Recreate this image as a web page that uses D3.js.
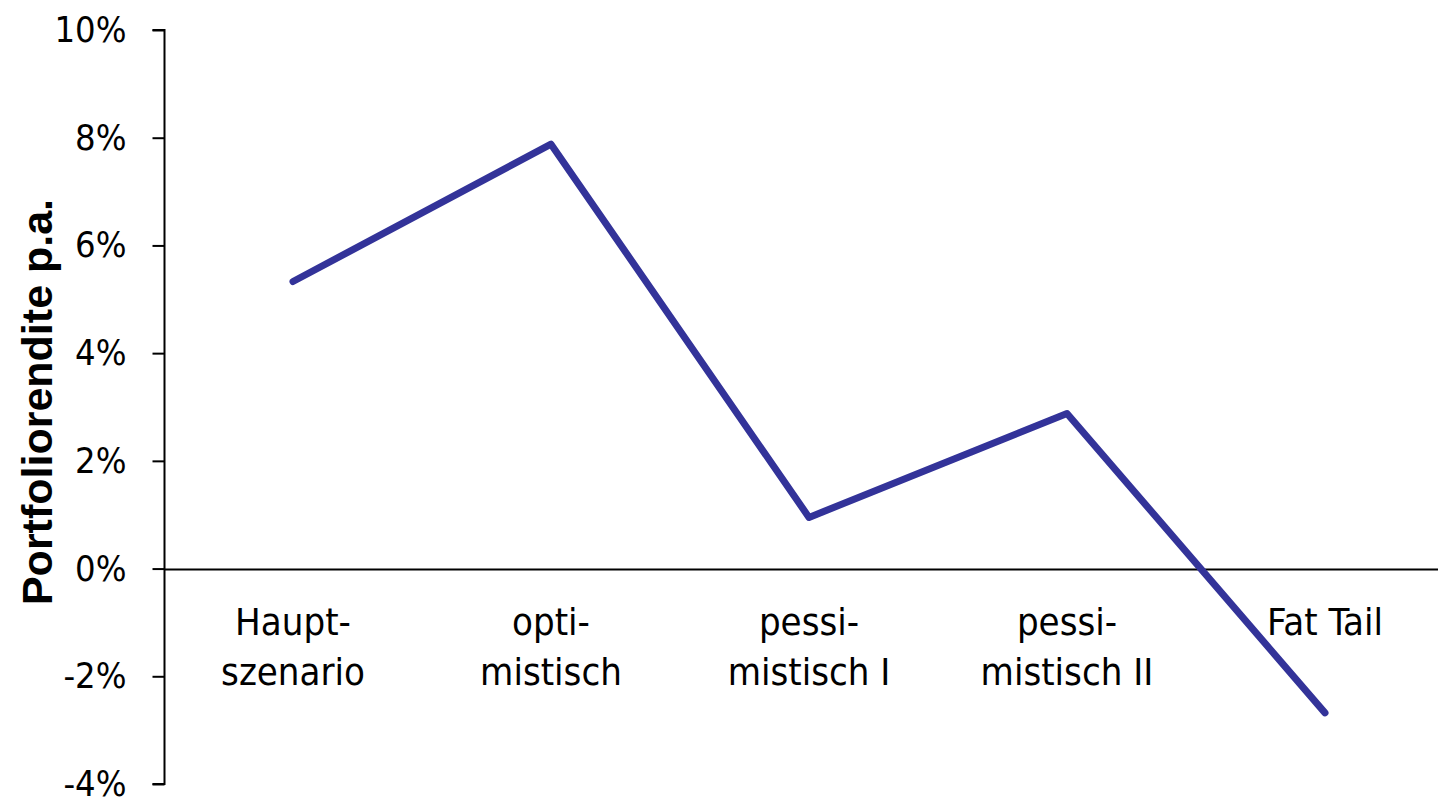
<!DOCTYPE html>
<html>
<head>
<meta charset="utf-8">
<script src="https://cdn.jsdelivr.net/npm/d3@7"></script>
<style>
  html, body { margin: 0; padding: 0; background: #fff; }
  svg { display: block; }
</style>
</head>
<body>
<svg id="chart" width="1438" height="799"></svg>
<script>
// Scenario names (each split into the lines shown under the axis)
const categories = ["Hauptszenario", "optimistisch", "pessimistisch I", "pessimistisch II", "Fat Tail"];
const categoryLines = [["Haupt-", "szenario"], ["opti-", "mistisch"], ["pessi-", "mistisch I"], ["pessi-", "mistisch II"], ["Fat Tail"]];
// Portfolio return p.a. in percent per scenario
const returns = [5.33, 7.88, 0.95, 2.88, -2.68];
// Y-axis ticks in percent
const yTicks = [-4, -2, 0, 2, 4, 6, 8, 10];

const svg = d3.select("#chart");
const labelFont = "'DejaVu Sans Condensed', 'DejaVu Sans', sans-serif";

const x = d3.scalePoint().domain(categories).range([164, 1454]).padding(0.5);
const y = d3.scaleLinear().domain([-4, 10]).range([784, 30]);

// Y axis with outward ticks
const yAxis = svg.append("g")
  .attr("transform", "translate(164.5,0)")
  .call(d3.axisLeft(y).tickValues(yTicks).tickSize(12).tickPadding(26).tickFormat(d => d + "%"));
yAxis.select(".domain").attr("stroke", "#000").attr("stroke-width", 2).attr("d", `M-12,${y(10)}H0V${y(-4)}H-12`);
yAxis.selectAll(".tick line").attr("stroke", "#000").attr("stroke-width", 2);
yAxis.selectAll(".tick text")
  .attr("font-family", labelFont).attr("font-size", 36).attr("fill", "#000");

// Zero line
svg.append("line")
  .attr("x1", 164).attr("x2", 1438)
  .attr("y1", Math.round(y(0)) + 0.5).attr("y2", Math.round(y(0)) + 0.5)
  .attr("stroke", "#000").attr("stroke-width", 2);

// Category labels below the zero line
const cat = svg.append("g").selectAll("text")
  .data(categories)
  .join("text")
  .attr("x", d => x(d))
  .attr("y", 635)
  .attr("text-anchor", "middle")
  .attr("font-family", labelFont)
  .attr("font-size", 38)
  .attr("fill", "#000");
cat.each(function(d, i) {
  d3.select(this).selectAll("tspan")
    .data(categoryLines[i])
    .join("tspan")
    .attr("x", x(d))
    .attr("dy", (t, j) => j === 0 ? 0 : 50)
    .text(t => t);
});

// Y-axis title
svg.append("text")
  .attr("transform", "translate(52,402) rotate(-90)")
  .attr("text-anchor", "middle")
  .attr("font-family", "'Liberation Sans', Arial, sans-serif")
  .attr("font-weight", "bold")
  .attr("font-size", 43)
  .attr("fill", "#000")
  .text("Portfoliorendite p.a.");

// Return line
const line = d3.line().x((d, i) => x(categories[i])).y(d => y(d));
svg.append("path")
  .datum(returns)
  .attr("d", line)
  .attr("fill", "none")
  .attr("stroke", "#333399")
  .attr("stroke-width", 7)
  .attr("stroke-linejoin", "round")
  .attr("stroke-linecap", "round");
</script>
</body>
</html>
